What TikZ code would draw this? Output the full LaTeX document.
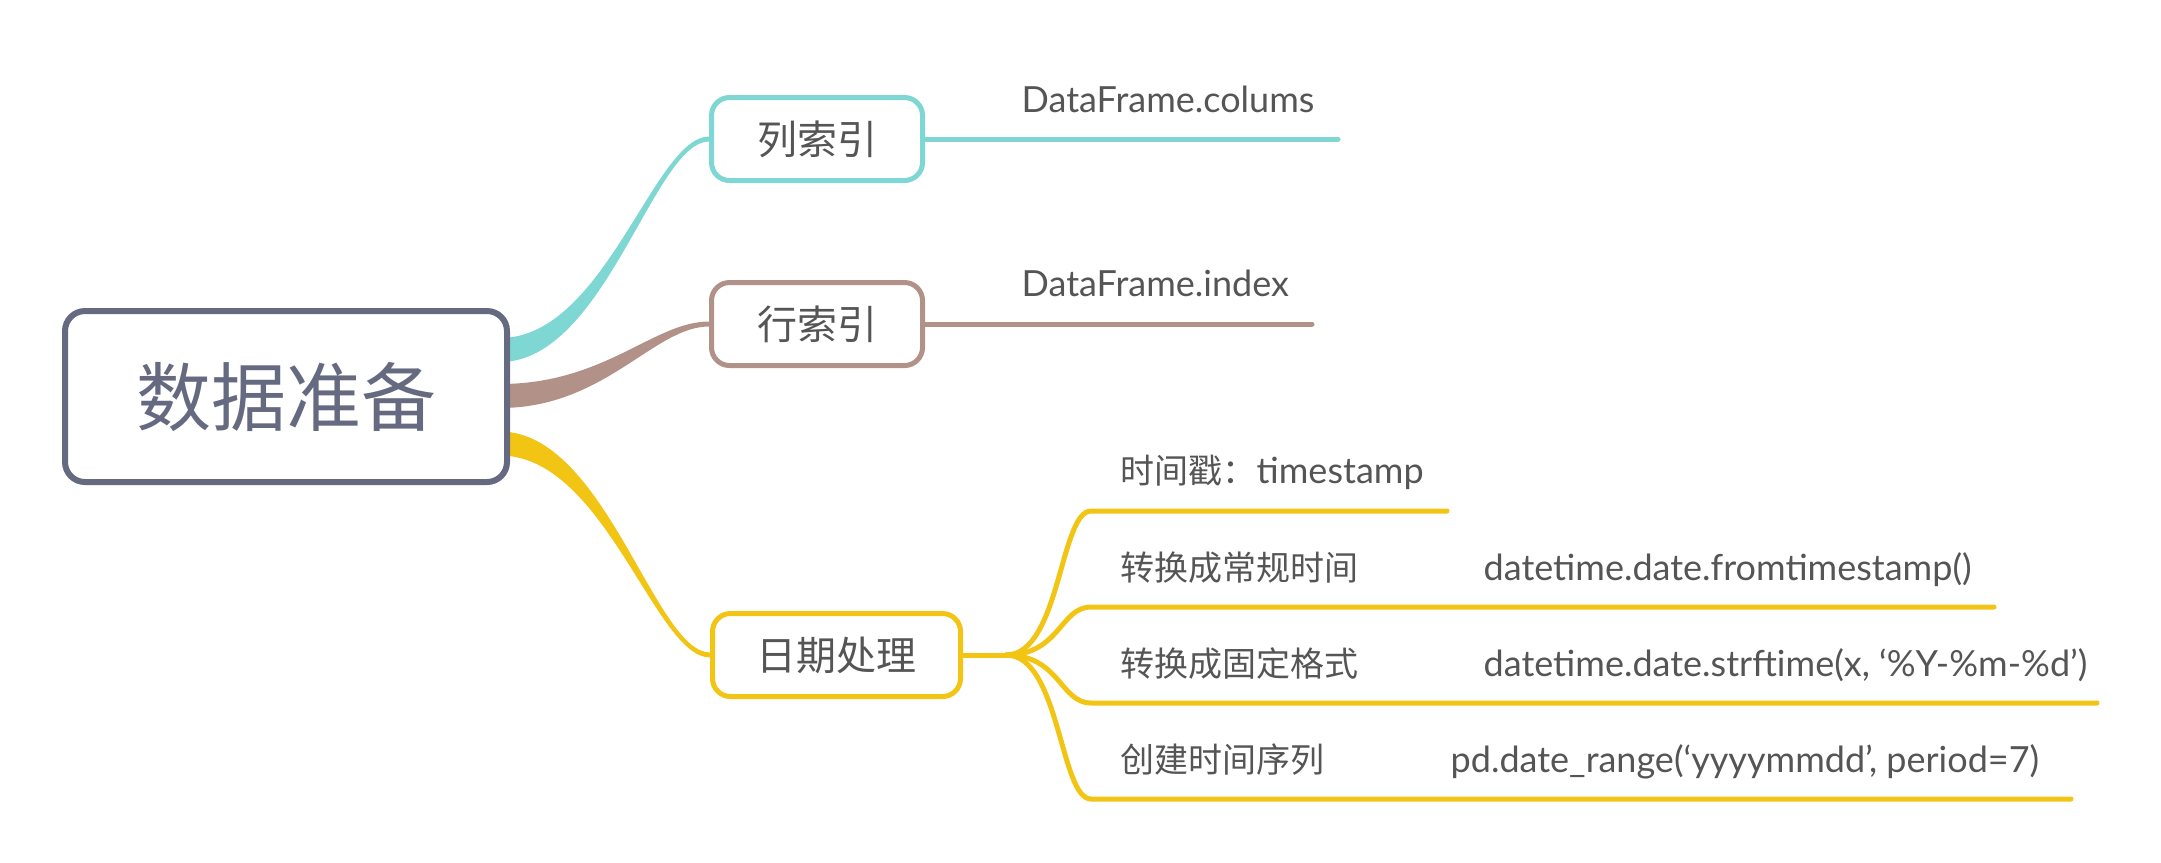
\documentclass[tikz,border=0pt]{standalone}
\usepackage{fontspec}
\setmainfont{Lato}
\newfontfamily\cjk{Noto Sans CJK SC}
\usetikzlibrary{backgrounds}

\definecolor{rootgray}{HTML}{656A80}
\definecolor{colcyan}{HTML}{7ED7D3}
\definecolor{rowbrown}{HTML}{B29288}
\definecolor{dateyellow}{HTML}{F2C515}
\definecolor{labelgray}{HTML}{555555}

\begin{document}
\begin{tikzpicture}[x=0.3pt, y=-0.3pt,
    every node/.style={text=labelgray},
    rootbox/.style={draw=rootgray, line width=1.8pt, rounded corners=6pt, fill=white,
      minimum width=132.6pt, minimum height=51.3pt, text=rootgray,
      font=\cjk\fontsize{22.5pt}{23pt}\selectfont},
    topicbox/.style={draw=#1, line width=1.5pt, rounded corners=5.4pt, fill=white,
      minimum height=24.9pt, font=\cjk\fontsize{12pt}{12pt}\selectfont},
    leaf/.style={anchor=base west, inner sep=0pt, font=\fontsize{10.8pt}{12pt}\selectfont},
    cjkleaf/.style={leaf, font=\cjk\fontsize{10.2pt}{12pt}\selectfont},
    limb/.style={draw=#1, line width=1.5pt, line cap=round}]
    \useasboundingbox (0,0) rectangle (2161,862);

    % main topic and sub topics
    \node[rootbox] (root) at (286,396.5) {数据准备};
    \node[topicbox=colcyan, minimum width=63.3pt] (colidx) at (817,139) {列索引};
    \node[topicbox=rowbrown, minimum width=63.3pt] (rowidx) at (817,324) {行索引};
    \node[topicbox=dateyellow, minimum width=74.4pt] (datefn) at (836.5,655) {日期处理};

    % tapered branches
    \begin{scope}[on background layer]
      \foreach \col/\dy/\tgt in {colcyan/13.95pt/colidx, rowbrown/0.15pt/rowidx, dateyellow/-14.1pt/datefn}
        \fill[\col] ([xshift=-3pt, yshift=\dy+3.6pt]root.east) .. controls +(105,0) and +(-55,0) .. ([yshift=0.75pt]\tgt.west)
          -- ([yshift=-0.75pt]\tgt.west) .. controls +(-55,0) and +(105,0) .. ([xshift=-3pt, yshift=\dy-3.6pt]root.east) -- cycle;
    \end{scope}

    % index branches
    \draw[limb=colcyan] (colidx.east) -- (1338,139);
    \draw[limb=rowbrown] (rowidx.east) -- (1312,324);
    \node[leaf] (colname) at (1021,112) {DataFrame.colums};
    \node[leaf] (rowname) at (1021,296) {DataFrame.index};

    % date branches
    \coordinate (fork) at ([xshift=12.9pt]datefn.east);
    \draw[limb=dateyellow] (datefn.east) -- (fork);
    \foreach \y/\len in {511/1447, 607/1994, 703/2097, 799/2071}
      \draw[limb=dateyellow] (fork) .. controls +(54,0) and +(-31,0) .. (1091,\y) -- (\len,\y);

    \node[leaf] (stamp) at (1120,483) {{\cjk\fontsize{10.2pt}{12pt}\selectfont 时间戳：}timestamp};
    \node[cjkleaf] (toreg) at (1120,580) {转换成常规时间};
    \node[leaf] (toregfn) at (1483,580) {datetime.date.fromtimestamp()};
    \node[cjkleaf] (tofmt) at (1120,676) {转换成固定格式};
    \node[leaf] (tofmtfn) at (1483,676) {datetime.date.strftime(x, ‘\%Y-\%m-\%d’)};
    \node[cjkleaf] (mkseries) at (1120,772) {创建时间序列};
    \node[leaf] (mkseriesfn) at (1450,772) {pd.date\_range(‘yyyymmdd’, period=7)};
\end{tikzpicture}
\end{document}
